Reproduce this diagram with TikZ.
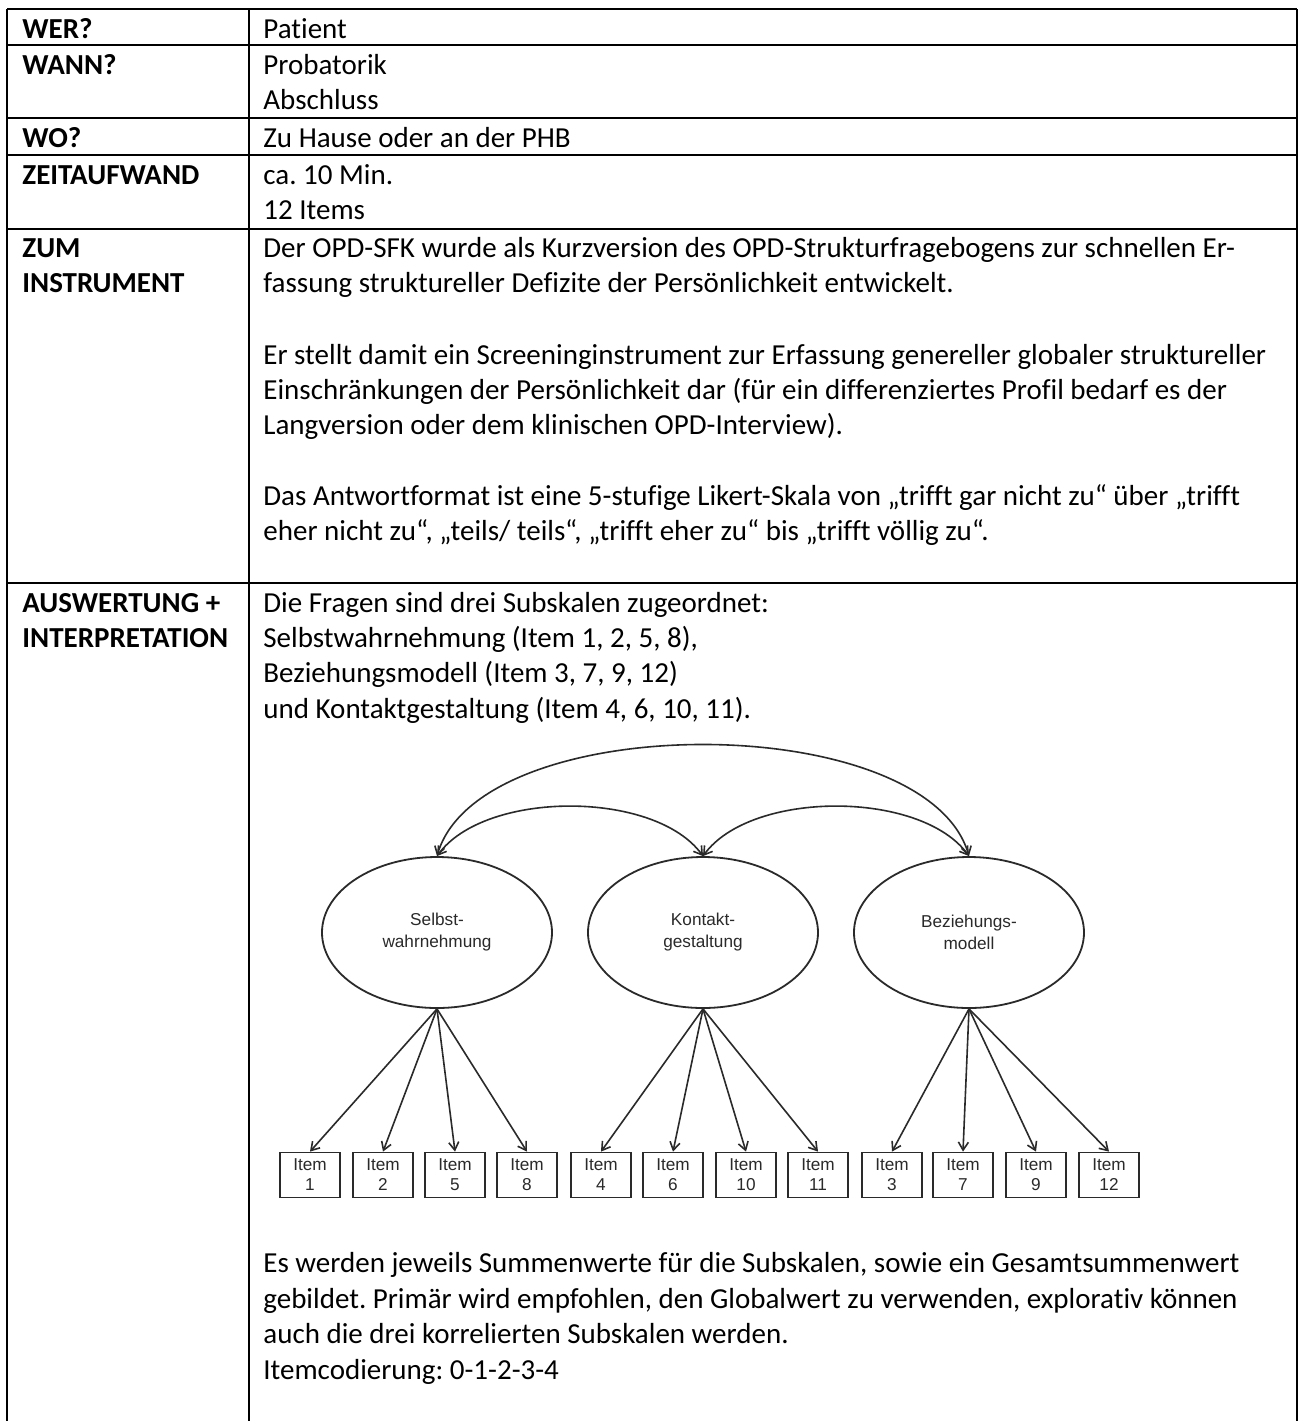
\documentclass[tikz,border=0pt]{standalone}
\usepackage{fontspec}
\setmainfont{Carlito}[Ligatures={NoCommon,NoContextual}]
\newfontfamily\diagfont{Liberation Sans}
\usetikzlibrary{shapes.geometric,arrows.meta}
\definecolor{dg}{HTML}{2A2A2A}
\newcommand{\fsz}{\fontsize{14.5pt}{17.7pt}\selectfont}
\newcommand{\dfs}{\fontsize{8.6pt}{11pt}\selectfont}
\newcommand{\ifs}{\fontsize{8.6pt}{10pt}\selectfont}
\frenchspacing
\tikzset{
  lbl/.style={anchor=base west, inner sep=0pt, font=\fsz\bfseries},
  txt/.style={anchor=base west, inner sep=0pt, font=\fsz},
  rule/.style={line width=1.1pt, black},
  ell/.style={ellipse, draw=dg, line width=0.9pt, minimum width=115pt, minimum height=75.5pt, inner sep=0pt, align=center, font=\diagfont\dfs, text=dg},
  itembox/.style={rectangle, draw=dg, line width=0.9pt, minimum width=30pt, minimum height=22.5pt, inner sep=0pt, align=center, font=\diagfont\ifs, text=dg},
  load/.style={draw=dg, line width=0.8pt, -{Straight Barb[length=4pt,width=5pt]}},
  corr/.style={draw=dg, line width=0.8pt, {Straight Barb[length=4pt,width=5pt]}-{Straight Barb[length=4pt,width=5pt]}}
}
\begin{document}
\begin{tikzpicture}[x=0.5pt,y=-0.5pt]
\useasboundingbox (0,0) rectangle (1304,1421);
\fill[white] (0,0) rectangle (1304,1421);
% table rules
\draw[rule] (7,9) -- (1297,9);
\draw[rule] (7,45) -- (1297,45);
\draw[rule] (7,118) -- (1297,118);
\draw[rule] (7,155) -- (1297,155);
\draw[rule] (7,229) -- (1297,229);
\draw[rule] (7,583) -- (1297,583);
\draw[rule] (7,9) -- (7,1421);
\draw[rule] (249,9) -- (249,1421);
\draw[rule] (1297,9) -- (1297,1421);
% labels
\node[lbl] (l1) at (22,38) {WER?};
\node[lbl] (l2) at (22,74) {WANN?};
\node[lbl] (l3) at (22,147) {WO?};
\node[lbl] (l4) at (22,184) {ZEITAUFWAND};
\node[lbl] (l5a) at (22,257) {ZUM};
\node[lbl] (l5b) at (22,292) {INSTRUMENT};
\node[lbl] (l6a) at (22,612) {AUSWERTUNG +};
\node[lbl] (l6b) at (22,647.4) {INTERPRETATION};
% contents
\node[txt] (c1) at (263,38) {Patient};
\node[txt] (c2a) at (263,74) {Probatorik};
\node[txt] (c2b) at (263,109) {Abschluss};
\node[txt] (c3) at (263,147) {Zu Hause oder an der PHB};
\node[txt] (c4a) at (263,184) {ca. 10 Min.};
\node[txt] (c4b) at (263,219) {12 Items};
\node[txt] (c5a) at (263,257) {Der OPD-SFK wurde als Kurzversion des OPD-Strukturfragebogens zur schnellen Er-};
\node[txt] (c5b) at (263,292) {fassung struktureller Defizite der Persönlichkeit entwickelt.};
\node[txt] (c5c) at (263,364) {Er stellt damit ein Screeninginstrument zur Erfassung genereller globaler struktureller};
\node[txt] (c5d) at (263,399) {Einschränkungen der Persönlichkeit dar (für ein differenziertes Profil bedarf es der};
\node[txt] (c5e) at (263,434) {Langversion oder dem klinischen OPD-Interview).};
\node[txt] (c5f) at (263,505.5) {Das Antwortformat ist eine 5-stufige Likert-Skala von „trifft gar nicht zu“ über „trifft};
\node[txt] (c5g) at (263,540.5) {eher nicht zu“, „teils/ teils“, „trifft eher zu“ bis „trifft völlig zu“.};
\node[txt] (c6a) at (263,612) {Die Fragen sind drei Subskalen zugeordnet:};
\node[txt] (c6b) at (263,647.4) {Selbstwahrnehmung (Item 1, 2, 5, 8),};
\node[txt] (c6c) at (263,682.8) {Beziehungsmodell (Item 3, 7, 9, 12)};
\node[txt] (c6d) at (263,718.2) {und Kontaktgestaltung (Item 4, 6, 10, 11).};
\node[txt] (c6e) at (263,1272.8) {Es werden jeweils Summenwerte für die Subskalen, sowie ein Gesamtsummenwert};
\node[txt] (c6f) at (263,1308.2) {gebildet. Primär wird empfohlen, den Globalwert zu verwenden, explorativ können};
\node[txt] (c6g) at (263,1343.6) {auch die drei korrelierten Subskalen werden.};
\node[txt] (c6h) at (263,1379) {Itemcodierung: 0-1-2-3-4};
% diagram: latent factors
\node[ell] (sw) at (437,932.5) {Selbst-\\wahrnehmung};
\node[ell] (kg) at (703,932.5) {Kontakt-\\gestaltung};
\node[ell] (bm) at (969,932.5) {Beziehungs-\\modell};
% items
\node[itembox] (i1) at (310,1175) {Item\\1};
\node[itembox] (i2) at (383,1175) {Item\\2};
\node[itembox] (i5) at (455,1175) {Item\\5};
\node[itembox] (i8) at (527,1175) {Item\\8};
\node[itembox] (i4) at (601,1175) {Item\\4};
\node[itembox] (i6) at (673,1175) {Item\\6};
\node[itembox] (i10) at (746,1175) {Item\\10};
\node[itembox] (i11) at (818,1175) {Item\\11};
\node[itembox] (i3) at (892,1175) {Item\\3};
\node[itembox] (i7) at (963,1175) {Item\\7};
\node[itembox] (i9) at (1036,1175) {Item\\9};
\node[itembox] (i12) at (1109,1175) {Item\\12};
% loadings
\foreach \it in {i1,i2,i5,i8}{\draw[load] (sw.south) -- (\it.north);}
\foreach \it in {i4,i6,i10,i11}{\draw[load] (kg.south) -- (\it.north);}
\foreach \it in {i3,i7,i9,i12}{\draw[load] (bm.south) -- (\it.north);}
% correlations
\draw[corr] (sw.north) .. controls (485,790) and (655,790) .. (kg.north);
\draw[corr] (kg.north) .. controls (751,790) and (921,790) .. (bm.north);
\draw[corr] (sw.north) .. controls (480,708) and (926,708) .. (bm.north);
\end{tikzpicture}
\end{document}
